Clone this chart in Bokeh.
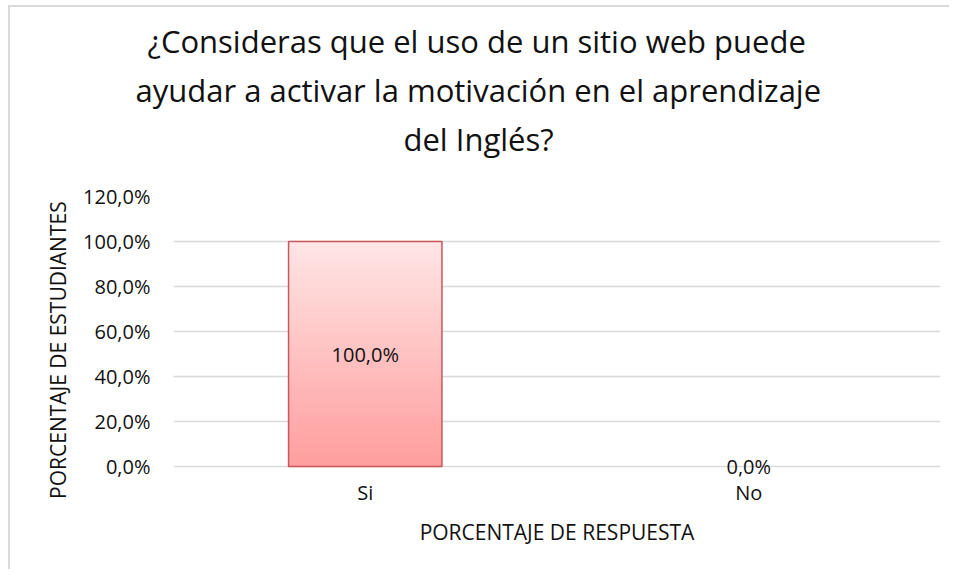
from bokeh.plotting import figure
from bokeh.models import FactorRange, Title, LabelSet, FixedTicker, ColumnDataSource
from bokeh.embed import file_html
from bokeh.resources import INLINE
from bokeh.core.properties import value

# ---- data ----
title_lines = [
    "¿Consideras que el uso de un sitio web puede",
    "ayudar a activar la motivación en el aprendizaje",
    "del Inglés?",
]
categories = ["Si", "No"]
values = [1.0, 0.0]
value_labels = ["100,0%", "0,0%"]
y_ticks = [0.0, 0.2, 0.4, 0.6, 0.8, 1.0, 1.2]
y_tick_labels = ["0,0%", "20,0%", "40,0%", "60,0%", "80,0%", "100,0%", "120,0%"]
x_axis_title = "PORCENTAJE DE RESPUESTA"
y_axis_title = "PORCENTAJE DE ESTUDIANTES"

FONT = "Open Sans"
GRID = "#d9d9d9"
TXT = "#111111"
FS = "20px"
FS_AX = "21px"

p = figure(
    x_range=FactorRange(*categories, range_padding=0),
    y_range=(-0.0444, 1.2),
    width=949, height=569,
    output_backend="svg", toolbar_location=None,
    min_border_left=173, min_border_right=9,
    min_border_top=196, min_border_bottom=93,
)
p.title.visible = False
p.outline_line_color = None
p.background_fill_color = "white"
p.border_fill_alpha = 0
p.styles = {
    "background": "linear-gradient(#d9d9d9,#d9d9d9) 8px 5px / 2px 100% no-repeat, "
                  "linear-gradient(#d9d9d9,#d9d9d9) 8px 5px / 100% 2px no-repeat, white",
}

# gradient bar built from slices of each value
N = 80
top_c = (255, 229, 229)
bot_c = (255, 158, 158)
xs, bottoms, tops, colors = [], [], [], []
for c, v in zip(categories, values):
    if v <= 0:
        continue
    for i in range(N):
        t = i / (N - 1)
        r = int(round(bot_c[0] + (top_c[0] - bot_c[0]) * t))
        g = int(round(bot_c[1] + (top_c[1] - bot_c[1]) * t))
        b = int(round(bot_c[2] + (top_c[2] - bot_c[2]) * t))
        xs.append(c)
        bottoms.append(v * i / N)
        tops.append(min(v * (i + 1.7) / N, v))
        colors.append("#%02x%02x%02x" % (r, g, b))
p.vbar(x=xs, bottom=bottoms, top=tops, width=0.40, fill_color=colors, line_color=None)

pos_c = [c for c, v in zip(categories, values) if v > 0]
pos_v = [v for v in values if v > 0]
p.vbar(x=pos_c, top=pos_v, width=0.40, fill_color=None, line_color="#c9585a", line_width=1.5)

# data labels
src = ColumnDataSource(dict(x=categories, y=[v / 2 for v in values], t=value_labels))
p.add_layout(LabelSet(x="x", y="y", text="t", source=src, text_align="center",
                      text_baseline="middle", text_font=value(FONT),
                      text_font_size=value(FS), text_color=TXT))

# axes
p.yaxis.ticker = FixedTicker(ticks=y_ticks)
p.yaxis.major_label_overrides = {t: l for t, l in zip(y_ticks, y_tick_labels)}
p.ygrid.ticker = FixedTicker(ticks=y_ticks)
p.ygrid.grid_line_color = GRID
p.ygrid.grid_line_width = 1.5
p.xgrid.grid_line_color = None

for ax in (p.xaxis, p.yaxis):
    ax.major_tick_line_color = None
    ax.minor_tick_line_color = None
    ax.major_tick_out = 0
    ax.major_tick_in = 0
    ax.minor_tick_out = 0
    ax.minor_tick_in = 0
    ax.axis_line_color = None
    ax.major_label_text_font = FONT
    ax.major_label_text_font_size = FS
    ax.major_label_text_color = TXT
    ax.axis_label_text_font = FONT
    ax.axis_label_text_font_size = FS_AX
    ax.axis_label_text_font_style = "normal"
    ax.axis_label_text_color = TXT

p.yaxis.major_label_standoff = 23
p.yaxis.axis_label = y_axis_title + "\u00a0" * 5
p.yaxis.axis_label_standoff = 8

p.xaxis.major_label_standoff = 2
p.xaxis.axis_label = x_axis_title
p.xaxis.axis_label_standoff = 9

# spacer between the plot and the title block
p.add_layout(Title(text=" ", text_font_size="1px", standoff=31), "above")
# title lines: added bottom line first so it sits nearest the plot
title_offsets = [-26, -38, 230]
for line, off in reversed(list(zip(title_lines, title_offsets))):
    p.add_layout(Title(text=line, align="left", offset=off,
                       text_font=FONT, text_font_size="31px",
                       text_font_style="normal", text_color=TXT,
                       standoff=5), "above")

open("out.html", "w").write(file_html(p, INLINE))
